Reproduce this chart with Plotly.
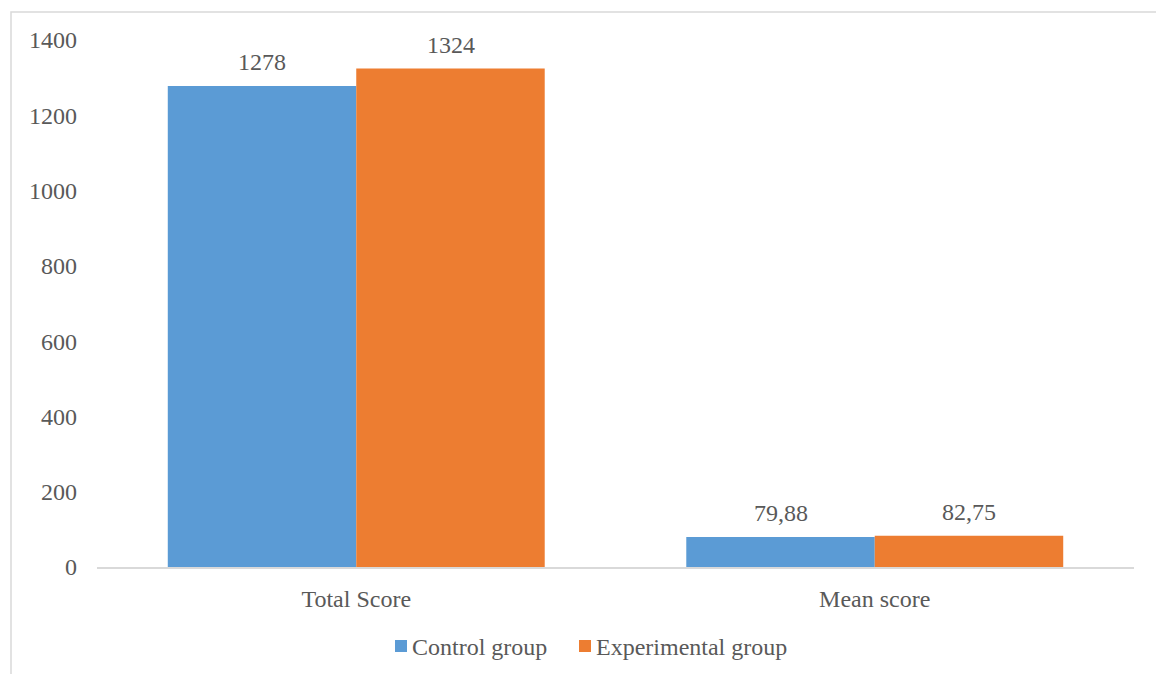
import plotly.graph_objects as go

categories = ["Total Score", "Mean score"]
control_values = [1278, 79.88]
experimental_values = [1324, 82.75]
series_names = ["Control group", "Experimental group"]
y_ticks = [0, 200, 400, 600, 800, 1000, 1200, 1400]

BLUE = "#5B9BD5"
ORANGE = "#ED7D31"
TEXT = "#595959"
LINE = "#D9D9D9"
FONT = "Liberation Serif, Times New Roman, serif"
FS = 24

# plot-area geometry in pixels (used to place the frame and the key)
W, H = 1156, 674
L, R, T, B = 97, 22, 40, 107
PW, PH = W - L - R, H - T - B


def px_x(px):
    return (px - L) / PW


def px_y(py):
    return (H - B - py) / PH


def fmt(v):
    # integers as-is, decimals with a comma separator
    if float(v).is_integer():
        return str(int(v))
    return f"{v:.2f}".replace(".", ",")


fig = go.Figure()
colors = [BLUE, ORANGE]
for name, vals, col in zip(series_names, (control_values, experimental_values), colors):
    fig.add_trace(go.Bar(name=name, x=categories, y=vals,
                         marker=dict(color=col, line=dict(width=0))))

# value labels above each bar
annotations = []
for vals, off in ((control_values, -0.5), (experimental_values, 0.5)):
    for i, v in enumerate(vals):
        annotations.append(dict(
            x=i, y=v, xref="x", yref="y", text=fmt(v), showarrow=False,
            xanchor="center", yanchor="bottom", yshift=9,
            xshift=off * 188.5,
            font=dict(family=FONT, size=FS, color=TEXT)))

# chart-area frame
shapes = [dict(type="rect", xref="paper", yref="paper",
               x0=px_x(11), x1=1.2, y0=-0.3, y1=px_y(12),
               line=dict(color=LINE, width=1.5), fillcolor="rgba(0,0,0,0)",
               layer="below")]

# key below the axis: colour square + series name
key_left = [395, 579]
for name, col, kx in zip(series_names, colors, key_left):
    shapes.append(dict(type="rect", xref="paper", yref="paper",
                       x0=px_x(kx), x1=px_x(kx + 12), y0=px_y(652), y1=px_y(640),
                       line=dict(width=0), fillcolor=col))
    annotations.append(dict(x=px_x(kx + 15), y=px_y(647), xref="paper", yref="paper",
                            text=name, showarrow=False, xanchor="left", yanchor="middle",
                            font=dict(family=FONT, size=FS, color=TEXT)))

fig.update_layout(
    width=W, height=H,
    margin=dict(l=L, r=R, t=T, b=B),
    paper_bgcolor="white", plot_bgcolor="white",
    barmode="group", bargap=0.273, bargroupgap=0,
    font=dict(family=FONT, size=FS, color=TEXT),
    showlegend=False,
    annotations=annotations,
    shapes=shapes,
    xaxis=dict(showline=True, linecolor=LINE, linewidth=2, showgrid=False,
               ticks="", ticklabelstandoff=9, zeroline=False,
               tickfont=dict(family=FONT, size=FS, color=TEXT)),
    yaxis=dict(range=[0, 1400], tickvals=y_ticks, showgrid=False, showline=False,
               zeroline=False, ticks="", ticklabelstandoff=19,
               tickfont=dict(family=FONT, size=FS, color=TEXT)),
)

fig.write_html("out.html")
